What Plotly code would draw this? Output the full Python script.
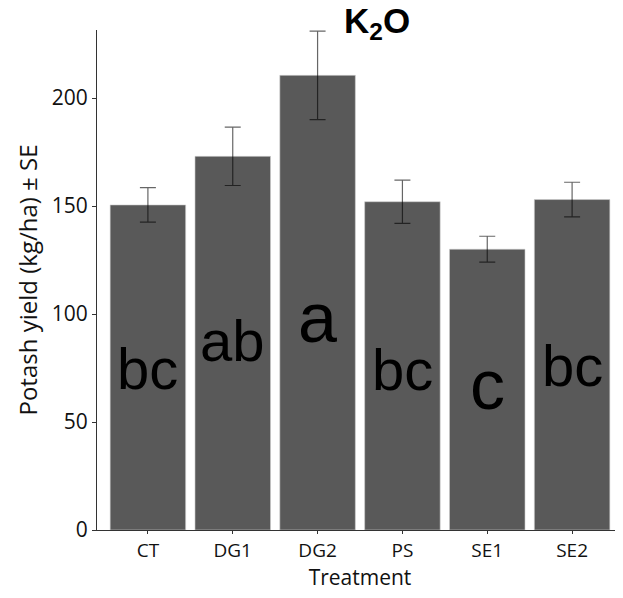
import plotly.graph_objects as go

treatments = ["CT", "DG1", "DG2", "PS", "SE1", "SE2"]
means = [150.5, 173.0, 210.5, 152.0, 130.0, 153.0]
se = [8.0, 13.5, 20.5, 10.0, 6.0, 8.0]
letters = ["bc", "ab", "a", "bc", "c", "bc"]
letter_y = [74.8, 87.6, 98.3, 74.4, 67.2, 76.2]
letter_size = [58, 58, 70, 58, 70, 58]
y_ticks = [0, 50, 100, 150, 200]

fig = go.Figure()
fig.add_trace(go.Bar(
    x=treatments, y=means, width=0.89,
    marker=dict(color="#595959", line=dict(color="#cfcfcf", width=0.6)),
    error_y=dict(type="data", array=se, visible=True,
                 color="rgba(0,0,0,0.6)", thickness=1.2, width=8),
    showlegend=False,
))

for t, lab, ly, fs in zip(treatments, letters, letter_y, letter_size):
    fig.add_annotation(x=t, y=ly, text=lab, showarrow=False,
                       xanchor="center", yanchor="middle",
                       font=dict(family="Liberation Sans, Arial", size=fs, color="black"))

fig.add_annotation(x=0.532, xref="paper", y=1.0, yref="paper", yshift=7,
                   text="<b>K<sub>2</sub>O</b>", showarrow=False,
                   xanchor="center", yanchor="middle",
                   font=dict(family="Liberation Sans, Arial", size=35, color="black"))

fig.update_layout(
    width=615, height=590,
    margin=dict(l=89, r=0, t=22, b=68, pad=0),
    plot_bgcolor="white", paper_bgcolor="white",
    xaxis=dict(
        range=[-0.6, 5.6], showline=True, linecolor="#333333", linewidth=1.2,
        ticks="outside", ticklen=3, tickcolor="#333333", tickwidth=1,
        tickfont=dict(family="Open Sans", size=19, color="#111111"),
        title=dict(text="Treatment", font=dict(family="Open Sans", size=21, color="#111111"), standoff=5),
        showgrid=False, zeroline=False,
    ),
    yaxis=dict(
        range=[0, 231.5], showline=True, linecolor="#333333", linewidth=1.2,
        ticks="outside", ticklen=4, tickcolor="#333333", tickwidth=1,
        tickvals=y_ticks, ticktext=[str(v) for v in y_ticks],
        tickfont=dict(family="Open Sans", size=21, color="#111111"),
        title=dict(text="Potash yield (kg/ha) ± SE", font=dict(family="Open Sans", size=24, color="#111111"), standoff=7),
        showgrid=False, zeroline=False,
    ),
)

fig.write_html("out.html")
